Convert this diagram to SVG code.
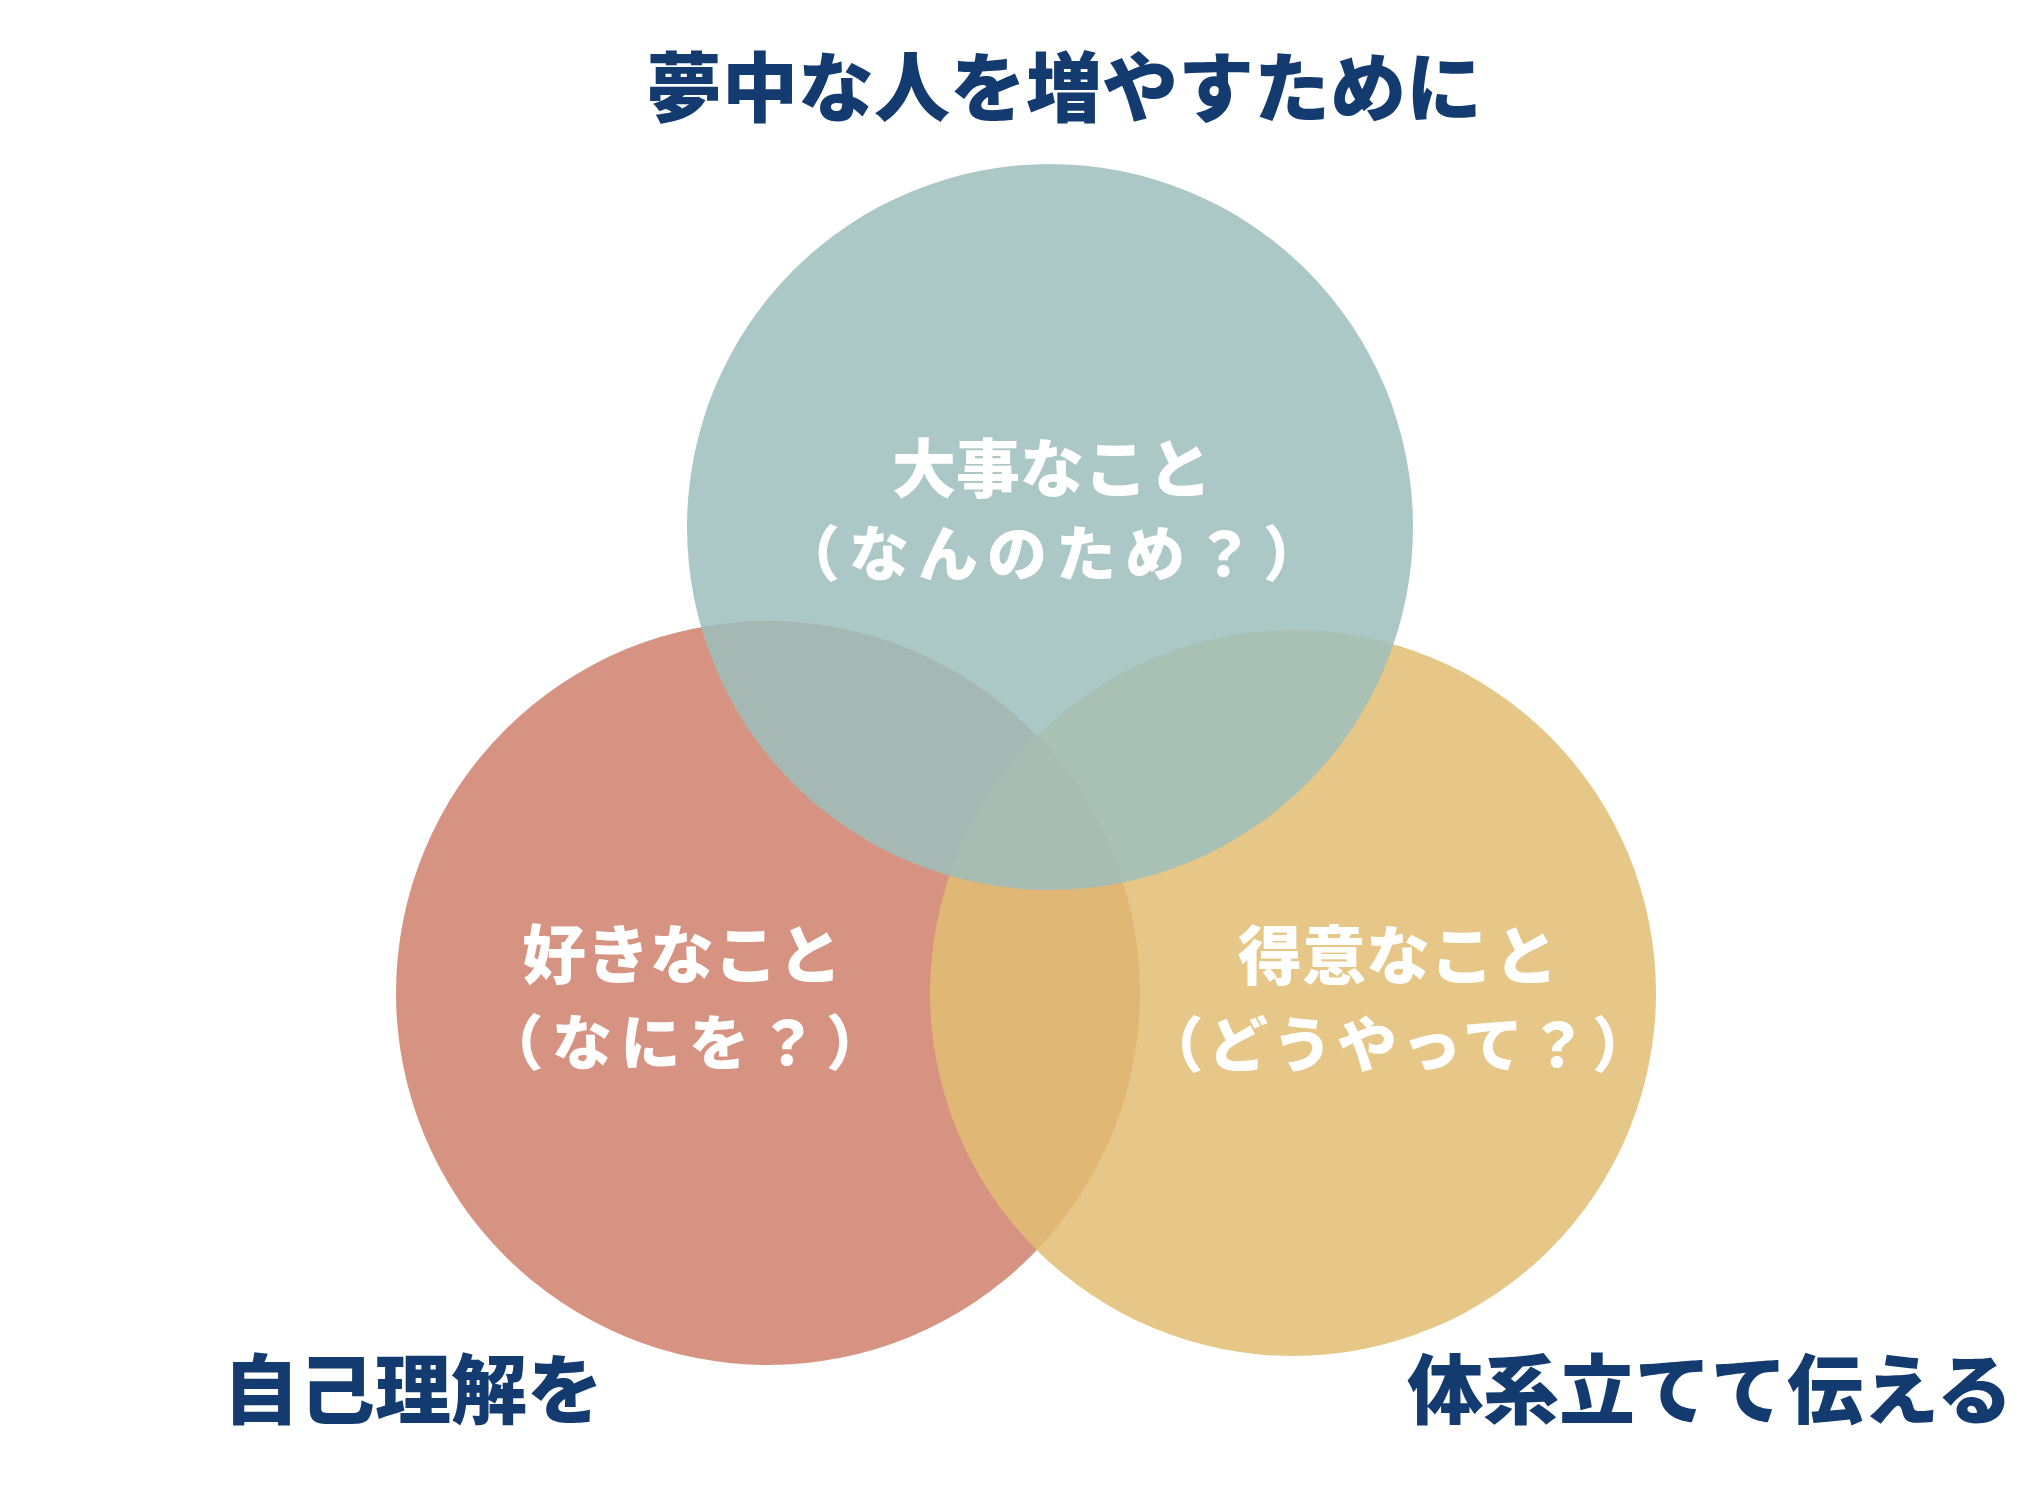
<svg xmlns="http://www.w3.org/2000/svg" width="2035" height="1491" viewBox="0 0 2035 1491">
<style>
.head{font-family:"Noto Sans CJK JP","Noto Sans CJK SC",sans-serif;font-weight:900;fill:#143b6f;font-size:76px;text-anchor:middle}
.lab{font-family:"Noto Sans CJK JP","Noto Sans CJK SC",sans-serif;font-weight:900;fill:#ffffff;text-anchor:middle}
.l1{font-size:64px}
.l2{font-size:60px}
</style>
<rect width="2035" height="1491" fill="#ffffff"/>
<g id="circle-like">
<circle cx="768" cy="993" r="372" fill="#d0806c" fill-opacity="0.85"/>
</g>
<g id="circle-good">
<circle cx="1293" cy="993" r="363" fill="#e2bd72" fill-opacity="0.85"/>
</g>
<g id="circle-important">
<circle cx="1050" cy="527" r="363" fill="#9ebebc" fill-opacity="0.85"/>
</g>
<g id="label-important">
<text class="lab l1" x="1052" y="492">大事なこと</text>
<text class="lab l2" x="1056" y="576" letter-spacing="9">（なんのため？）</text>
</g>
<g id="label-like">
<text class="lab l1" x="682" y="978">好きなこと</text>
<text class="lab l2" x="689" y="1065" letter-spacing="8.5">（なにを？）</text>
</g>
<g id="label-good">
<text class="lab l1" x="1398" y="979">得意なこと</text>
<text class="lab l2" x="1400" y="1067" letter-spacing="4.5">（どうやって？）</text>
</g>
<g id="title">
<text class="head" x="1064" y="116">夢中な人を増やすために</text>
</g>
<g id="caption-left">
<text class="head" x="413" y="1418">自己理解を</text>
</g>
<g id="caption-right">
<text class="head" x="1710" y="1418">体系立てて伝える</text>
</g>
<g id="connectors"></g>
</svg>
